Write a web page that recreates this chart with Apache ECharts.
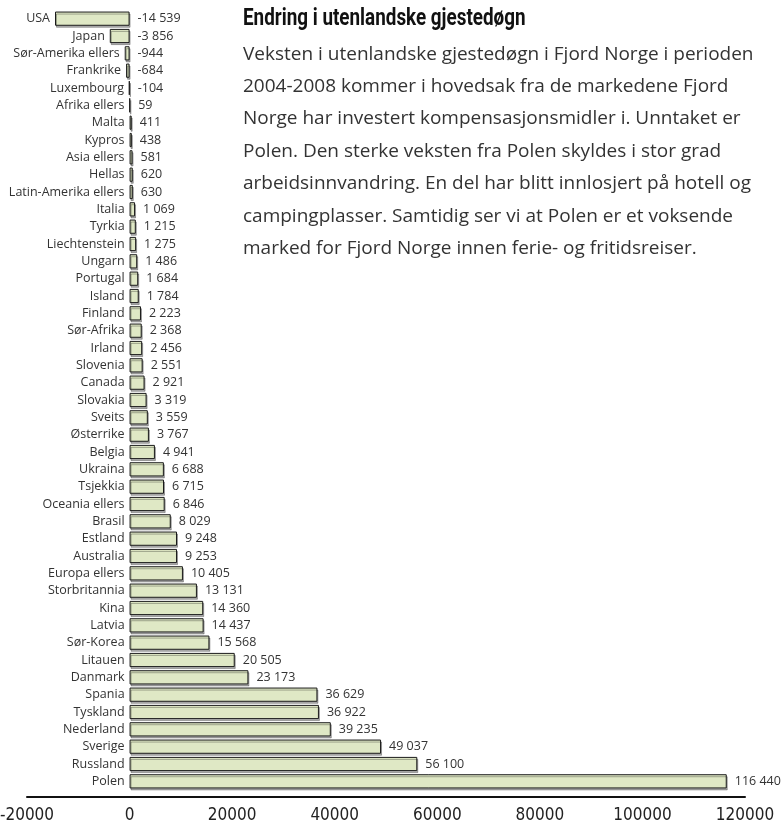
<!DOCTYPE html>
<html>
<head>
<meta charset="utf-8">
<script src="https://cdn.jsdelivr.net/npm/echarts@6/dist/echarts.min.js"></script>
<style>
html,body{margin:0;padding:0;background:#fff;}
#chart{width:784px;height:825px;}
</style>
</head>
<body>
<div id="chart"></div>
<script>
const categories = ["USA","Japan","Sør-Amerika ellers","Frankrike","Luxembourg","Afrika ellers","Malta","Kypros","Asia ellers","Hellas","Latin-Amerika ellers","Italia","Tyrkia","Liechtenstein","Ungarn","Portugal","Island","Finland","Sør-Afrika","Irland","Slovenia","Canada","Slovakia","Sveits","Østerrike","Belgia","Ukraina","Tsjekkia","Oceania ellers","Brasil","Estland","Australia","Europa ellers","Storbritannia","Kina","Latvia","Sør-Korea","Litauen","Danmark","Spania","Tyskland","Nederland","Sverige","Russland","Polen"];
const values = [-14539,-3856,-944,-684,-104,59,411,438,581,620,630,1069,1215,1275,1486,1684,1784,2223,2368,2456,2551,2921,3319,3559,3767,4941,6688,6715,6846,8029,9248,9253,10405,13131,14360,14437,15568,20505,23173,36629,36922,39235,49037,56100,116440];
const xTicks = [-20000,0,20000,40000,60000,80000,100000,120000];
const titleText = "Endring i utenlandske gjestedøgn";
const bodyLines = [
  "Veksten i utenlandske gjestedøgn i Fjord Norge i perioden",
  "2004-2008 kommer i hovedsak fra de markedene Fjord",
  "Norge har investert kompensasjonsmidler i. Unntaket er",
  "Polen. Den sterke veksten fra Polen skyldes i stor grad",
  "arbeidsinnvandring. En del har blitt innlosjert på hotell og",
  "campingplasser. Samtidig ser vi at Polen er et voksende",
  "marked for Fjord Norge innen ferie- og fritidsreiser."
];

function fmt(v){
  const s = String(Math.abs(v)).replace(/\B(?=(\d{3})+(?!\d))/g, ' ');
  return (v < 0 ? '-' : '') + s;
}

const LABEL_FONT = '"Open Sans", sans-serif';
const chart = echarts.init(document.getElementById('chart'), null, {renderer:'canvas'});
chart.setOption({
  animation:false,
  backgroundColor:'#ffffff',
  title:{
    text:'',
    subtext:bodyLines.join('\n'),
    left:243, top:38, itemGap:0, padding:0,
    subtextStyle:{fontFamily:'"Open Sans", sans-serif', fontSize:19, color:'#333', lineHeight:32.4}
  },
  graphic:[{
    type:'text', x:243, y:8, scaleX:0.82, scaleY:1,
    style:{text:titleText, font:'bold 23px Roboto, "Liberation Sans", sans-serif', fill:'#111', textVerticalAlign:'top'}
  }],
  grid:{left:27, right:39, top:10, bottom:35, outerBoundsMode:'none', containLabel:false},
  xAxis:{
    type:'value', min:xTicks[0], max:xTicks[xTicks.length-1], interval:20000,
    offset:7,
    axisLine:{show:true, onZero:false, lineStyle:{color:'#111', width:2}},
    axisTick:{show:false},
    splitLine:{show:false},
    axisLabel:{margin:10, fontFamily:'"DejaVu Sans Condensed", "DejaVu Sans", sans-serif', fontSize:17, color:'#222',
      formatter:function(v){return String(v);}}
  },
  yAxis:{
    type:'category', data:categories, inverse:true,
    axisLine:{show:false},
    axisTick:{show:false},
    axisLabel:{show:false}
  },
  series:[{
    type:'bar',
    data:values,
    barCategoryGap:'18%',
    itemStyle:{color:'#dfe8c5', borderColor:'#1a1a1a', borderWidth:1,
      shadowColor:'rgba(0,0,0,0.3)', shadowOffsetX:1, shadowOffsetY:2, shadowBlur:0},
    label:{show:true, position:'right', distance:8, fontFamily:LABEL_FONT, fontSize:12.5, color:'#333',
      formatter:function(p){return fmt(p.value);}}
  },{
    // same bars, invisible: carries the category name at the bar's left end
    type:'bar',
    data:values,
    barCategoryGap:'18%',
    barGap:'-100%',
    silent:true,
    itemStyle:{color:'rgba(0,0,0,0)', borderWidth:0},
    label:{show:true, position:'left', distance:5, fontFamily:LABEL_FONT, fontSize:12.5, color:'#333',
      formatter:function(p){return p.name;}}
  }]
});
</script>
</body>
</html>
